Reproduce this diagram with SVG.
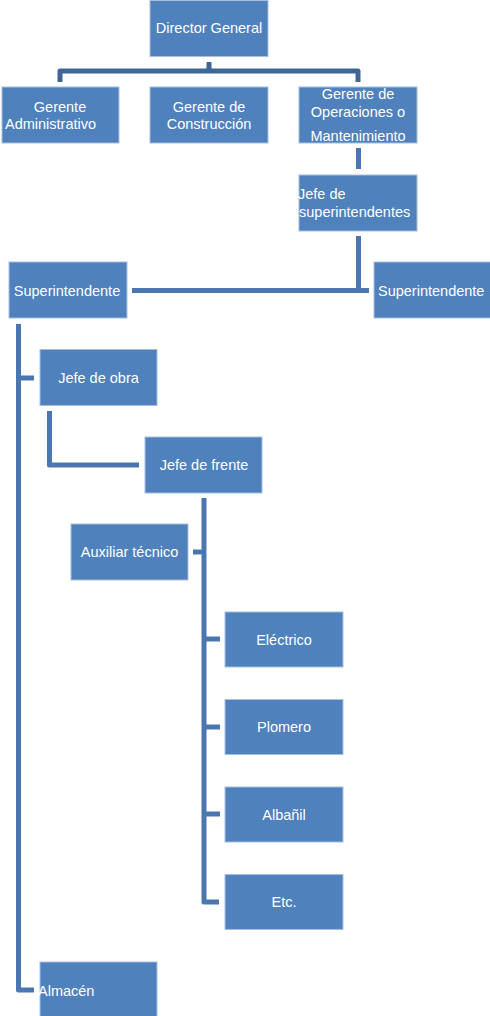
<svg xmlns="http://www.w3.org/2000/svg" width="490" height="1016" viewBox="0 0 490 1016">
<style>
.box{fill:#4f81bd;stroke:#a7bedf;stroke-width:1}
.t{font-family:"Liberation Sans",Arial,sans-serif;font-size:14.5px;fill:#ffffff}
.c{text-anchor:middle}
.ln{fill:none;stroke:#4a77b0;stroke-width:5;stroke-linejoin:round}
.top{stroke:#3f6694}
</style>
<rect width="490" height="1016" fill="#ffffff"/>
<g id="connectors">
<path class="ln top" d="M60,82 V71 H358 V82 M209,62 V71"/>
<path class="ln" d="M358.5,148 V169"/>
<path class="ln" d="M358.5,236 V290.5 M132,290.5 H369"/>
<path class="ln" d="M18.5,324 V990 H34 M18.5,378 H34"/>
<path class="ln" d="M49.5,411 V465 H139"/>
<path class="ln" d="M204,498 V902 H219 M193,552 H204 M204,639 H220 M204,727 H220 M204,814 H220"/>
</g>
<g id="director">
<rect class="box" x="150" y="0.5" width="118" height="56"/>
<text class="t c" x="209" y="33">Director General</text>
</g>
<g id="gerente-admin">
<rect class="box" x="2" y="87" width="117" height="56"/>
<text class="t c" x="60" y="112">Gerente</text>
<text class="t" x="5" y="129">Administrativo</text>
</g>
<g id="gerente-construccion">
<rect class="box" x="150" y="87" width="118" height="56"/>
<text class="t c" x="209" y="112">Gerente de</text>
<text class="t c" x="209" y="129">Construcción</text>
</g>
<g id="gerente-operaciones">
<rect class="box" x="299" y="87" width="118" height="56"/>
<text class="t c" x="358" y="99">Gerente de</text>
<text class="t c" x="358" y="117">Operaciones o</text>
<text class="t c" x="358" y="141">Mantenimiento</text>
</g>
<g id="jefe-superintendentes">
<rect class="box" x="299" y="175" width="118" height="56"/>
<text class="t" x="298" y="199">Jefe de</text>
<text class="t" x="299" y="217">superintendentes</text>
</g>
<g id="superintendente-izq">
<rect class="box" x="9" y="262" width="118" height="56"/>
<text class="t c" x="67" y="296">Superintendente</text>
</g>
<g id="superintendente-der">
<rect class="box" x="374" y="262" width="117" height="56"/>
<text class="t" x="378" y="296">Superintendente</text>
</g>
<g id="jefe-obra">
<rect class="box" x="40" y="349.5" width="117" height="56"/>
<text class="t c" x="98.5" y="383">Jefe de obra</text>
</g>
<g id="jefe-frente">
<rect class="box" x="145" y="437" width="117" height="56"/>
<text class="t c" x="204" y="470">Jefe de frente</text>
</g>
<g id="auxiliar-tecnico">
<rect class="box" x="71" y="524" width="117" height="56"/>
<text class="t c" x="129.5" y="557">Auxiliar técnico</text>
</g>
<g id="electrico">
<rect class="box" x="225" y="612" width="118" height="55"/>
<text class="t c" x="284" y="645">Eléctrico</text>
</g>
<g id="plomero">
<rect class="box" x="225" y="699.5" width="118" height="55"/>
<text class="t c" x="284" y="732">Plomero</text>
</g>
<g id="albanil">
<rect class="box" x="225" y="787" width="118" height="55"/>
<text class="t c" x="284" y="820">Albañil</text>
</g>
<g id="etc">
<rect class="box" x="225" y="874.5" width="118" height="55"/>
<text class="t c" x="284" y="907">Etc.</text>
</g>
<g id="almacen">
<rect class="box" x="40" y="962" width="117" height="56"/>
<text class="t" x="38" y="996">Almacén</text>
</g>
</svg>
